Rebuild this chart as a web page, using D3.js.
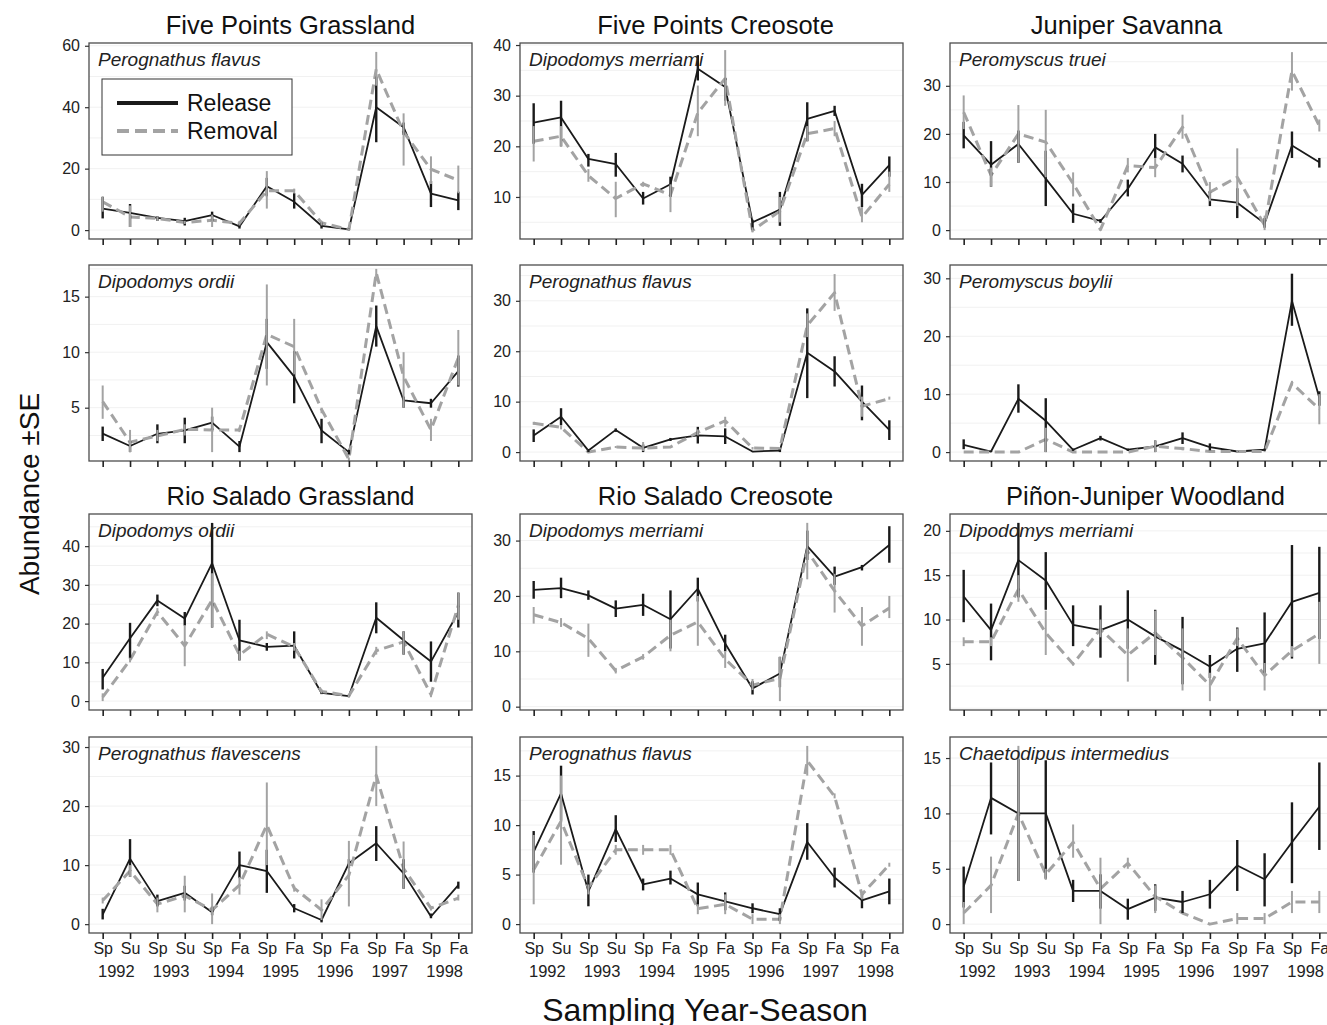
<!DOCTYPE html>
<html>
<head>
<meta charset="utf-8">
<script src="https://cdn.jsdelivr.net/npm/d3@7"></script>
<style>
  body { margin: 0; background: #fff; }
  svg { display: block; font-family: "Liberation Sans", Arial, sans-serif; }
</style>
</head>
<body>
<svg width="1327" height="1025"></svg>
<script>
// x categories
const seasons = ["Sp","Su","Sp","Su","Sp","Fa","Sp","Fa","Sp","Fa","Sp","Fa","Sp","Fa"];
const years = ["1992","1993","1994","1995","1996","1997","1998"];
const siteTitles = [
  ["Five Points Grassland", "Five Points Creosote", "Juniper Savanna"],
  ["Rio Salado Grassland", "Rio Salado Creosote", "Piñon-Juniper Woodland"]
];
const species = [
  "Perognathus flavus", "Dipodomys merriami", "Peromyscus truei",
  "Dipodomys ordii", "Perognathus flavus", "Peromyscus boylii",
  "Dipodomys ordii", "Dipodomys merriami", "Dipodomys merriami",
  "Perognathus flavescens", "Perognathus flavus", "Chaetodipus intermedius"
];
const yTicks = [
  [0,20,40,60], [10,20,30,40], [0,10,20,30],
  [5,10,15], [0,10,20,30], [0,10,20,30],
  [0,10,20,30,40], [0,10,20,30], [5,10,15,20],
  [0,10,20,30], [0,5,10,15], [0,5,10,15]
];
const yLimits = [
  [-2.9,60.9], [1.7,40.4], [-1.85,38.9],
  [0.2,17.85], [-1.77,37.1], [-1.54,32.3],
  [-2.3,48.3], [-0.6,34.8], [-0.2,21.9],
  [-1.5,31.7], [-0.9,18.9], [-0.8,16.9]
];

// [mean, mean-SE, mean+SE]
const fpgFlavusRelease = [[7.0,3.8,10.8],[5.6,1,8.5],[4,3,4.5],[2.9,1.5,4],[4.9,3,6],[1.2,0.5,2],[14.3,11,17],[9.2,7,12],[1.4,0.5,2.5],[0.2,0,0.5],[40,28.6,50],[33.5,31,35],[11.9,7.5,16],[9.7,6.5,12.5]];
const fpgFlavusRemoval = [[9.2,6,11],[4.3,1,8],[3.8,3,4.5],[2.5,2,3],[3.2,1,5],[2.2,1.5,3],[12.8,7,19.2],[12.8,12,13.5],[2.4,1.5,3],[0.2,0,0.5],[52.4,47,58],[31.9,21,38],[19.8,15,24],[16.2,12,21]];
const fpcMerriamiRelease = [[24.7,20.5,28.5],[25.7,20,29],[17.5,16,18.5],[16.5,14,18.7],[9.7,8.5,11],[12.5,10,14],[35.3,33,38],[31.7,29,33.5],[5,3.5,5.5],[7.5,4.3,11],[25.4,21,28.7],[27,26,28],[10.4,8,12.6],[16.3,14,18]];
const fpcMerriamiRemoval = [[21,17,24],[22,20,24],[14.2,13,15.5],[9.7,6,13],[12.6,12,13],[10.4,7,12.5],[26.6,22,32],[33.4,28,39],[3.4,3,4],[7.2,5,10],[22.5,21,24],[23.5,22,25],[6,5,8],[12.5,11,15]];
const jsTrueiRelease = [[19.7,17,22.5],[13.6,9,18.5],[17.9,14,20.7],[10.7,5,16.5],[3.4,1.5,5.5],[1.9,1.5,2.3],[8.6,7,10.5],[17.2,15,20],[13.8,12,15.5],[6.4,5,8],[5.7,2.5,8.7],[1.4,0.5,2.5],[17.6,15,20.5],[14.1,13,15]];
const jsTrueiRemoval = [[24.5,21,28],[11.4,9,13],[20,14,26],[18.3,11,25],[9.7,7,12],[0.1,0,0.5],[13.4,12,15],[13,11,15],[21.4,19,24],[7.9,6,10],[11,5,17],[1,0,3],[33.1,29,37],[21.7,20.5,23]];
const fpgOrdiiRelease = [[2.66,2,3.3],[1.55,1,2],[2.65,1.8,3.5],[2.95,1.8,4.1],[3.65,3,4.2],[1.5,1,2],[10.9,8.5,13],[7.8,5.4,10.1],[2.95,1.8,4],[1.0,0.8,1.2],[12.35,10.5,14.2],[5.65,5.0,6.0],[5.4,5.0,5.8],[8.3,6.9,9.7]];
const fpgOrdiiRemoval = [[5.55,4,7],[1.9,1,3],[2.45,2,3],[3.05,2.5,3.5],[3.0,1,5],[3,2.8,3.2],[11.6,7,16.1],[10.5,8,13],[4.85,4.5,5],[0.35,0.2,0.5],[17.15,16.5,17.5],[7.8,5,10],[3,2,4],[9.5,7,12]];
const fpcFlavusRelease = [[3.3,2,4.5],[7,5.3,8.7],[0.3,0,0.6],[4.4,4,4.7],[0.85,0,1.5],[2.5,2.2,2.8],[3.3,1.7,5],[3.1,1.6,4.7],[0.1,0,0.2],[0.3,0,0.6],[19.7,10.7,28.5],[16,13,19],[10,6.3,13.2],[4.4,2.4,6.3]];
const fpcFlavusRemoval = [[5.7,5.4,6],[4.9,4.5,5.3],[0,0,0],[1,0.8,1.2],[0.8,0.2,2],[1,0.8,1.2],[3.9,3.3,4.5],[6.2,5,7],[0.8,0.5,1],[0.7,0.5,0.9],[25.1,22.8,27.5],[31.6,28,35.3],[9.1,7,11],[10.6,10.4,11]];
const jsBoyliiRelease = [[1.25,0.5,2.2],[0.1,0,0.2],[9.2,6.8,11.7],[5.4,0,9.3],[0.4,0.2,0.6],[2.4,2,2.8],[0.4,0.2,0.6],[1,0,2],[2.4,1.4,3.4],[0.85,0.3,1.5],[0.1,0,0.2],[0.4,0.2,0.6],[26.1,21.8,30.8],[9.4,8,10.5]];
const jsBoyliiRemoval = [[0,0,0],[0,0,0],[0,0,0],[2.2,0,4.2],[0,0,0],[0,0,0],[0,0,0],[1,0,2],[0.6,0.3,0.9],[0.1,0,0.2],[0.1,0,0.2],[0.1,0,0.2],[11.9,11.5,12.3],[7.4,4.8,10]];
const rsgOrdiiRelease = [[6,3,8.3],[16.2,11,20.2],[26,24.5,27.5],[21.3,19.5,23],[35.6,19,46],[15.7,10.5,21],[14,13,15],[14.3,11,18],[2.1,1.8,2.4],[1.3,1,1.6],[21.5,17.5,25.5],[15.7,12,18],[10.2,5,15.4],[23,19,28]];
const rsgOrdiiRemoval = [[1,0,2],[10.6,10,11.2],[23,22,24],[14.3,9,19.5],[26.1,19,33],[11.9,10.5,13],[17.3,16,18],[14,13,15],[2.5,2,3],[1.4,1,1.8],[13,12,14],[15.3,12,18],[1.7,1,2.5],[24.7,21,28]];
const rscMerriamiRelease = [[21.1,19.5,22.7],[21.4,19.6,23.3],[20.1,19.3,21],[17.7,16.2,19.2],[18.4,16.4,20.4],[15.8,10.5,21],[21.3,19,23.3],[11.4,10,13],[3.3,2.2,4.6],[6,3.5,9],[29,26.5,31.8],[23.5,22,25.3],[25.2,24.6,25.6],[29.2,26,32.6]];
const rscMerriamiRemoval = [[16.6,15,18],[15.2,14.4,16],[12.3,9,15],[6.5,6,7],[9,8.5,9.5],[12.9,10,15.7],[15.3,11,20],[8.6,7,10],[3.9,3,5],[5.1,1,9],[28.1,23,33.2],[20.9,17,24],[14.6,11,18],[17.8,16,20]];
const pjwMerriamiRelease = [[12.6,9.7,15.6],[8.8,5.4,11.8],[16.7,12.5,20.9],[14.4,11.1,17.6],[9.4,7,11.6],[8.8,5.7,11.6],[10,6.7,13.3],[8.1,4.9,11.1],[6.5,2.7,10.3],[4.7,3.4,6],[6.7,4.1,9.1],[7.3,4,10.8],[12,5.6,18.4],[13,7.8,18.2]];
const pjwMerriamiRemoval = [[7.5,7,8],[7.5,7,8],[13.4,12,15],[8.5,6,11],[5,4.8,5.2],[8.9,8,10],[6,3,9],[8.5,6,11],[5.7,2,9],[2.6,0.8,4],[7.9,7,9],[3.7,2,5.1],[6.5,5.8,7],[8.4,5,12]];
const rsgFlavescensRelease = [[1.6,0.8,2.6],[11.1,8,14.4],[3.9,3,5],[5.3,4,6.5],[2,1.5,3],[10,7.8,12.3],[9,5.3,12.6],[2.7,2,3.4],[0.7,0.3,1],[10.3,9.5,11],[13.7,10.7,16.6],[8.6,6,11],[1.3,1,1.8],[6.6,6,7.2]];
const rsgFlavescensRemoval = [[4,3.5,4.5],[9,8,10],[3.4,2,4.5],[4.8,2,8.2],[2.4,0,5.2],[6.6,5,8],[16.8,10,24],[6.1,5.5,6.5],[2.4,0.7,4.2],[8.3,3,14.1],[25.2,20,30.2],[9.4,6,14],[2.7,2.3,3],[4.4,4,5]];
const rscFlavusRelease = [[7.3,5.2,9.4],[13.2,10.5,16],[3.3,1.8,5],[9.6,8.3,11],[4,3.4,4.6],[4.6,4,5.4],[3,1.8,4.2],[2.3,1.4,3.2],[1.6,1.1,2.1],[1,0.3,1.6],[8.3,6.5,10.2],[4.7,3.7,5.7],[2.4,1.6,3],[3.3,2,4.6]];
const rscFlavusRemoval = [[5.5,2,9],[10.4,6,15],[3.7,3,4],[7.5,7,8],[7.5,7,8],[7.5,7,8],[1.55,1,2],[2,1,3],[0.5,0,1],[0.5,0,1],[16.5,15,18],[12.9,12.7,13.2],[3,2.5,3.2],[6,5.8,6.2]];
const pjwIntermediusRelease = [[3.4,1.5,5.2],[11.4,8.1,14.6],[10,3.9,14.9],[10,4.1,14.8],[3,2,4],[3,1.4,4.5],[1.35,0.4,2.3],[2.4,1.2,3.6],[2,1,3],[2.7,1.4,4],[5.3,3,7.6],[4.05,1.6,6.4],[7.4,3.7,11],[10.6,6.7,14.6]];
const pjwIntermediusRemoval = [[1,0,2],[3.5,1,6.1],[10,3.9,16.1],[4.5,4,5],[7.4,6,9],[3.2,0,6],[5.5,5,6],[2.5,1,3.5],[1,1,1],[0,0,0],[0.5,0,1],[0.5,0,1],[2,1,3],[2,1,3]];

const releaseSeries = [fpgFlavusRelease, fpcMerriamiRelease, jsTrueiRelease, fpgOrdiiRelease, fpcFlavusRelease, jsBoyliiRelease,
  rsgOrdiiRelease, rscMerriamiRelease, pjwMerriamiRelease, rsgFlavescensRelease, rscFlavusRelease, pjwIntermediusRelease];
const removalSeries = [fpgFlavusRemoval, fpcMerriamiRemoval, jsTrueiRemoval, fpgOrdiiRemoval, fpcFlavusRemoval, jsBoyliiRemoval,
  rsgOrdiiRemoval, rscMerriamiRemoval, pjwMerriamiRemoval, rsgFlavescensRemoval, rscFlavusRemoval, pjwIntermediusRemoval];

const svg = d3.select("svg");
const colX = [89, 520, 950];
const rowY = [43, 265, 514, 737];
const pw = 383, ph = 196;
const black = "#1a1a1a", grey = "#a3a3a3";
// site titles sit a little off the panel centre
const titleShift = [[10, 4, -15], [10, 4, 4]];

const x = d3.scalePoint().domain(d3.range(seasons.length)).range([0, pw]).padding(0.5);

const styles = [
  {key: "release", color: black, lw: 1.8, dash: null, ew: 2.4},
  {key: "removal", color: grey, lw: 3, dash: "10,5.5", ew: 2}
];

d3.range(12).forEach(function(p) {
  const r = Math.floor(p / 3), c = p % 3;
  const g = svg.append("g").attr("transform", "translate(" + colX[c] + "," + rowY[r] + ")");
  const y = d3.scaleLinear().domain(yLimits[p]).range([ph, 0]);

  // faint grid, major + minor
  const t = yTicks[p], step = t[1] - t[0];
  const grid = d3.range(t[0] - step, t[t.length - 1] + step + 0.001, step / 2)
    .filter(v => v > yLimits[p][0] && v < yLimits[p][1]);
  g.append("g").selectAll("line").data(grid).enter().append("line")
    .attr("x1", 0).attr("x2", pw)
    .attr("y1", d => y(d)).attr("y2", d => y(d))
    .attr("stroke", "#f1f1f1").attr("stroke-width", 1);

  g.append("clipPath").attr("id", "clip" + p)
    .append("rect").attr("width", pw).attr("height", ph);
  const plot = g.append("g").attr("clip-path", "url(#clip" + p + ")");

  const line = d3.line().x((d, i) => x(i)).y(d => y(d[0]));
  const sets = [releaseSeries[p], removalSeries[p]];
  sets.forEach(function(data, k) {
    const s = styles[k];
    plot.append("path").datum(data)
      .attr("fill", "none").attr("stroke", s.color).attr("stroke-width", s.lw)
      .attr("stroke-dasharray", s.dash).attr("stroke-linejoin", "round")
      .attr("d", line);
  });
  sets.forEach(function(data, k) {
    const s = styles[k];
    plot.append("g").selectAll("line").data(data).enter().append("line")
      .attr("x1", (d, i) => x(i)).attr("x2", (d, i) => x(i))
      .attr("y1", d => y(d[1])).attr("y2", d => y(d[2]))
      .attr("stroke", s.color).attr("stroke-width", s.ew);
  });

  // panel border
  g.append("rect").attr("width", pw).attr("height", ph)
    .attr("fill", "none").attr("stroke", "#4d4d4d").attr("stroke-width", 1.3);

  // axes
  const ya = g.append("g").call(d3.axisLeft(y).tickValues(t).tickSize(4).tickPadding(5));
  ya.select(".domain").remove();
  ya.selectAll("line").attr("stroke", "#333").attr("stroke-width", 1.2);
  ya.selectAll("text").attr("font-size", 16).attr("fill", "#222").attr("font-family", null);

  const xa = g.append("g").attr("transform", "translate(0," + ph + ")")
    .call(d3.axisBottom(x).tickSize(6).tickPadding(4)
      .tickFormat(r === 3 ? (i => seasons[i]) : () => ""));
  xa.select(".domain").remove();
  xa.selectAll("line").attr("stroke", "#222").attr("stroke-width", 1.6);
  xa.selectAll("text").attr("font-size", 16).attr("fill", "#222").attr("font-family", null);

  if (r === 3) {
    g.append("g").selectAll("text").data(years).enter().append("text")
      .attr("x", (d, i) => (x(2 * i) + x(2 * i + 1)) / 2)
      .attr("y", ph + 44)
      .attr("text-anchor", "middle").attr("font-size", 16.5).attr("fill", "#222")
      .text(d => d);
  }

  g.append("text").attr("x", 9).attr("y", 23)
    .attr("font-size", 19).attr("font-style", "italic").attr("fill", "#222")
    .text(species[p]);

  if (r === 0 || r === 2) {
    g.append("text").attr("x", pw / 2 + titleShift[r / 2][c]).attr("y", -9)
      .attr("text-anchor", "middle").attr("font-size", 25.5).attr("fill", "#111")
      .text(siteTitles[r / 2][c]);
  }

  // legend, first panel only
  if (p === 0) {
    const lg = g.append("g").attr("transform", "translate(13,36)");
    lg.append("rect").attr("width", 190).attr("height", 76)
      .attr("fill", "#fff").attr("stroke", "#333").attr("stroke-width", 1);
    styles.forEach(function(s, k) {
      lg.append("line").attr("x1", 15).attr("x2", 76)
        .attr("y1", 24 + k * 28).attr("y2", 24 + k * 28)
        .attr("stroke", s.color).attr("stroke-width", 4)
        .attr("stroke-dasharray", s.dash ? "12,6" : null);
      lg.append("text").attr("x", 85).attr("y", 32 + k * 28)
        .attr("font-size", 23).attr("fill", "#111")
        .text(k === 0 ? "Release" : "Removal");
    });
  }
});

svg.append("text")
  .attr("transform", "translate(39,494) rotate(-90)")
  .attr("text-anchor", "middle").attr("font-size", 28).attr("fill", "#111")
  .text("Abundance ±SE");

svg.append("text")
  .attr("x", 705).attr("y", 1021)
  .attr("text-anchor", "middle").attr("font-size", 32).attr("fill", "#111")
  .text("Sampling Year-Season");
</script>
</body>
</html>
